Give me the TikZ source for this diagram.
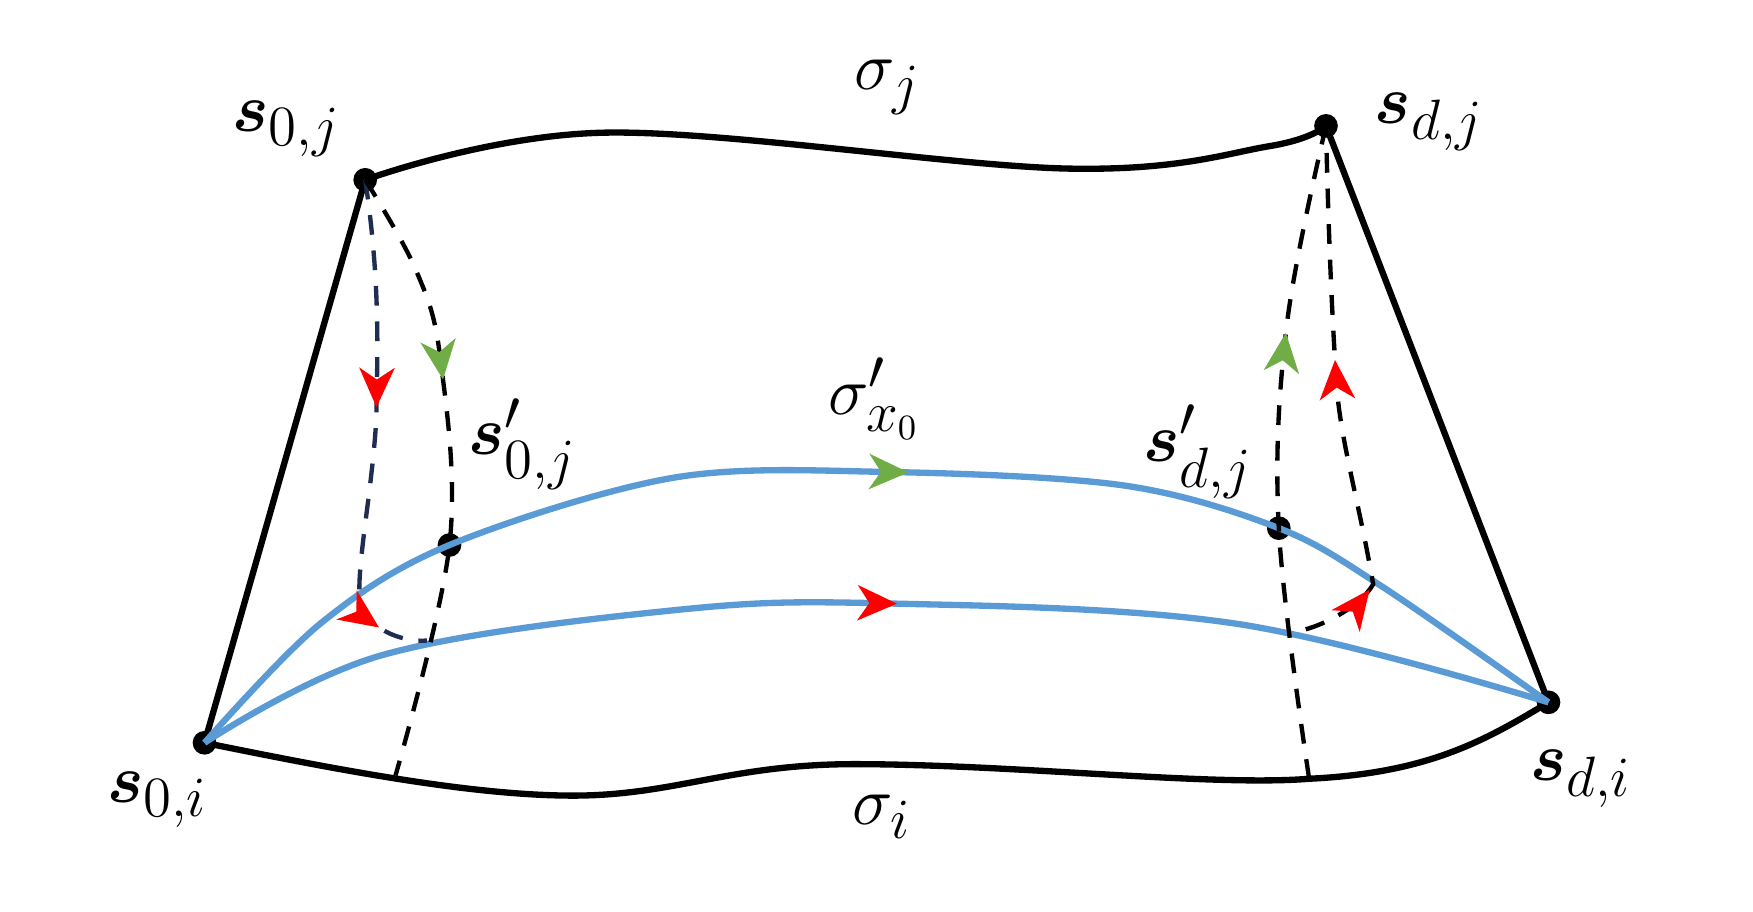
\documentclass[tikz,border=0pt]{standalone}
\usepackage{amsmath,bm}
\usetikzlibrary{decorations.markings,arrows.meta}
\definecolor{skyblue}{RGB}{91,155,213}
\definecolor{leaf}{RGB}{112,173,71}
\definecolor{navy}{RGB}{31,45,80}
\tikzset{
  dot/.style={circle,fill=black,inner sep=0pt,minimum size=6pt},
  edge/.style={line width=1.6pt},
  bluepath/.style={skyblue,line width=1.6pt},
  guide/.style={line width=1.1pt,dash pattern=on 5pt off 4pt},
  lbl/.style={font=\fontsize{19}{22}\selectfont},
  tip/.style 2 args={postaction={decorate,decoration={markings,
      mark=at position #1 with {\arrow[#2,line width=0.4pt,solid]{Stealth[length=10pt,width=9pt,inset=3pt]}}}}},
  tiptwo/.style n args={3}{postaction={decorate,decoration={markings,
      mark=at position #1 with {\arrow[#3,line width=0.4pt,solid]{Stealth[length=10pt,width=9pt,inset=3pt]}},
      mark=at position #2 with {\arrow[#3,line width=0.4pt,solid]{Stealth[length=10pt,width=9pt,inset=3pt]}}}}}
}
\begin{document}
\begin{tikzpicture}[x=0.01cm,y=-0.01cm]
  \useasboundingbox (0,0) rectangle (1560,811);
  \node[dot] (s0j) at (325,160) {};
  \node[dot] (sdj) at (1180,112) {};
  \node[dot] (s0i) at (182,661) {};
  \node[dot] (sdi) at (1378,625) {};
  \node[dot] (p0j) at (400,485) {};
  \node[dot] (pdj) at (1138,470) {};
  \coordinate (b0) at (352,690);
  \coordinate (bd) at (1165,693);
  % outer frame
  \draw[edge] (s0i.center) -- (s0j.center);
  \draw[edge] (sdi.center) -- (sdj.center);
  \draw[edge] plot[smooth,tension=0.6] coordinates {(s0j.center) (540,118) (950,150) (1130,130) (sdj.center)};
  \draw[edge] (s0i.center) .. controls (300,685) and (420,708) .. (510,708)
    .. controls (600,708) and (650,680) .. (760,680) .. controls (900,680) and (1080,700) .. (1165,693)
    .. controls (1270,688) and (1320,660) .. (sdi.center);
  % blue paths
  \draw[bluepath,tip={0.53}{leaf}] plot[smooth,tension=0.55] coordinates {(s0i.center) (285,555) (p0j.center) (600,425) (790,420) (1000,432) (pdj.center) (1230,522) (sdi.center)};
  \draw[bluepath,tip={0.52}{red}] plot[smooth,tension=0.6] coordinates {(s0i.center) (340,583) (600,543) (790,537) (1100,555) (sdi.center)};
  % dashed guides, left
  \draw[guide,navy,tiptwo={0.45}{0.9}{red}] (s0j.center) .. controls (340,260) and (335,330) .. (335,370)
    .. controls (332,430) and (318,500) .. (320,530) .. controls (322,560) and (360,572) .. (380,570);
  \draw[guide,tip={0.35}{leaf}] plot[smooth,tension=0.6] coordinates {(s0j.center) (370,240) (392,320) (p0j.center) (b0)};
  % dashed guides, right
  \draw[guide,tip={0.68}{leaf}] plot[smooth,tension=0.6] coordinates {(bd) (pdj.center) (1145,290) (sdj.center)};
  \draw[guide,tiptwo={0.14}{0.57}{red}] (1162,560) .. controls (1180,555) and (1210,540) .. (1222,520)
    .. controls (1210,450) and (1195,400) .. (1190,350) .. controls (1185,280) and (1182,200) .. (sdj.center);
  % labels
  \node[lbl] (lj) at (790,78) {$\sigma_j$};
  \node[lbl] (li) at (785,727) {$\sigma_i$};
  \node[lbl] (lx) at (778,355) {$\sigma'_{x_0}$};
  \node[lbl] (l0j) at (255,115) {$\bm{s}_{0,j}$};
  \node[lbl] (ldj) at (1272,108) {$\bm{s}_{d,j}$};
  \node[lbl] (l0i) at (140,712) {$\bm{s}_{0,i}$};
  \node[lbl] (ldi) at (1407,693) {$\bm{s}_{d,i}$};
  \node[lbl] (lp0) at (465,395) {$\bm{s}'_{0,j}$};
  \node[lbl] (lpd) at (1066,402) {$\bm{s}'_{d,j}$};
\end{tikzpicture}
\end{document}
